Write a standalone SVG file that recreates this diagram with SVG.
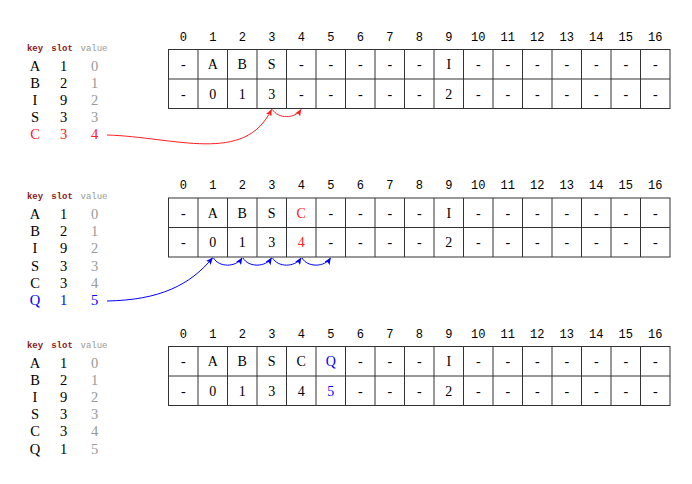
<svg xmlns="http://www.w3.org/2000/svg" xmlns:xlink="http://www.w3.org/1999/xlink" width="692" height="484" viewBox="0 0 692 484">
<style>
.idx{font-family:"Liberation Mono","DejaVu Sans Mono",monospace;font-size:12px;text-anchor:middle;fill:#000}
.cell{font-family:"Liberation Serif","DejaVu Serif",serif;font-size:14px;text-anchor:middle;fill:#000}
.hk{font-family:"Liberation Mono","DejaVu Sans Mono",monospace;font-size:9px;font-weight:bold;text-anchor:middle;fill:#8b1a1a}
.hv{font-family:"Liberation Mono","DejaVu Sans Mono",monospace;font-size:9px;text-anchor:middle;fill:#999}
.tk{font-family:"Liberation Serif","DejaVu Serif",serif;font-size:14.5px;text-anchor:middle;fill:#000}
.tv{font-family:"Liberation Serif","DejaVu Serif",serif;font-size:14.5px;text-anchor:middle;fill:#999}
.red{fill:#ff2020}
.blue{fill:#0000ff}
.grid{fill:#fff;stroke:#333;stroke-width:1}
.ar{fill:none;stroke:#ff2020;stroke-width:1}
.ab{fill:none;stroke:#0000ff;stroke-width:1}
</style>
<defs>
<marker id="mr" markerUnits="userSpaceOnUse" markerWidth="8" markerHeight="6" refX="6.5" refY="3" orient="auto">
<path d="M0,0 L7,3 L0,6 L1.5,3 z" fill="#ff2020"/>
</marker>
<marker id="mb" markerUnits="userSpaceOnUse" markerWidth="8" markerHeight="6" refX="6.5" refY="3" orient="auto">
<path d="M0,0 L7,3 L0,6 L1.5,3 z" fill="#0000ff"/>
</marker>
<g id="gridshape">
<rect class="grid" x="168.5" y="0" width="501.5" height="59"/>
<path stroke="#333" stroke-width="1" fill="none" d="M168.5,29.5 H670 M198,0 V59 M227.5,0 V59 M257,0 V59 M286.5,0 V59 M316,0 V59 M345.5,0 V59 M375,0 V59 M404.5,0 V59 M434,0 V59 M463.5,0 V59 M493,0 V59 M522.5,0 V59 M552,0 V59 M581.5,0 V59 M611,0 V59 M640.5,0 V59"/>
</g>
<g id="idxrow" class="idx">
<text x="183.25">0</text><text x="212.75">1</text><text x="242.25">2</text><text x="271.75">3</text><text x="301.25">4</text><text x="330.75">5</text><text x="360.25">6</text><text x="389.75">7</text><text x="419.25">8</text><text x="448.75">9</text><text x="478.25">10</text><text x="507.75">11</text><text x="537.25">12</text><text x="566.75">13</text><text x="596.25">14</text><text x="625.75">15</text><text x="655.25">16</text>
</g>
<g id="dashes" class="cell">
<text x="330.75">-</text><text x="360.25">-</text><text x="389.75">-</text><text x="419.25">-</text><text x="478.25">-</text><text x="507.75">-</text><text x="537.25">-</text><text x="566.75">-</text><text x="596.25">-</text><text x="625.75">-</text><text x="655.25">-</text>
</g>
</defs>

<!-- Table 1 -->
<g id="table1">
<text class="hk" x="35" y="50.5">key</text><text class="hk" x="62" y="50.5">slot</text><text class="hv" x="94" y="50.5">value</text>
<text class="tk" x="35" y="70.5">A</text><text class="tk" x="63.5" y="70.5">1</text><text class="tv" x="94.5" y="70.5">0</text>
<text class="tk" x="35" y="87.7">B</text><text class="tk" x="63.5" y="87.7">2</text><text class="tv" x="94.5" y="87.7">1</text>
<text class="tk" x="35" y="104.9">I</text><text class="tk" x="63.5" y="104.9">9</text><text class="tv" x="94.5" y="104.9">2</text>
<text class="tk" x="35" y="122.1">S</text><text class="tk" x="63.5" y="122.1">3</text><text class="tv" x="94.5" y="122.1">3</text>
<text class="tk red" x="35" y="139.3">C</text><text class="tk red" x="63.5" y="139.3">3</text><text class="tv red" x="94.5" y="139.3">4</text>
</g>

<!-- Array 1 -->
<g id="array1">
<use xlink:href="#idxrow" x="0" y="40.5"/>
<use xlink:href="#gridshape" x="0" y="49.5"/>
<g class="cell">
<text x="183.25" y="69">-</text><text x="212.75" y="69">A</text><text x="242.25" y="69">B</text><text x="271.75" y="69">S</text><text x="301.25" y="69">-</text><text x="448.75" y="69">I</text>
<text x="183.25" y="98.5">-</text><text x="212.75" y="98.5">0</text><text x="242.25" y="98.5">1</text><text x="271.75" y="98.5">3</text><text x="301.25" y="98.5">-</text><text x="448.75" y="98.5">2</text>
</g>
<use xlink:href="#dashes" x="0" y="69"/>
<use xlink:href="#dashes" x="0" y="98.5"/>
</g>

<!-- Table 2 -->
<g id="table2">
<text class="hk" x="35" y="199">key</text><text class="hk" x="62" y="199">slot</text><text class="hv" x="94" y="199">value</text>
<text class="tk" x="35" y="219">A</text><text class="tk" x="63.5" y="219">1</text><text class="tv" x="94.5" y="219">0</text>
<text class="tk" x="35" y="236.2">B</text><text class="tk" x="63.5" y="236.2">2</text><text class="tv" x="94.5" y="236.2">1</text>
<text class="tk" x="35" y="253.4">I</text><text class="tk" x="63.5" y="253.4">9</text><text class="tv" x="94.5" y="253.4">2</text>
<text class="tk" x="35" y="270.6">S</text><text class="tk" x="63.5" y="270.6">3</text><text class="tv" x="94.5" y="270.6">3</text>
<text class="tk" x="35" y="287.8">C</text><text class="tk" x="63.5" y="287.8">3</text><text class="tv" x="94.5" y="287.8">4</text>
<text class="tk blue" x="35" y="305">Q</text><text class="tk blue" x="63.5" y="305">1</text><text class="tv blue" x="94.5" y="305">5</text>
</g>

<!-- Array 2 -->
<g id="array2">
<use xlink:href="#idxrow" x="0" y="189"/>
<use xlink:href="#gridshape" x="0" y="198"/>
<g class="cell">
<text x="183.25" y="217.5">-</text><text x="212.75" y="217.5">A</text><text x="242.25" y="217.5">B</text><text x="271.75" y="217.5">S</text><text class="red" x="301.25" y="217.5">C</text><text x="448.75" y="217.5">I</text>
<text x="183.25" y="247">-</text><text x="212.75" y="247">0</text><text x="242.25" y="247">1</text><text x="271.75" y="247">3</text><text class="red" x="301.25" y="247">4</text><text x="448.75" y="247">2</text>
</g>
<use xlink:href="#dashes" x="0" y="217.5"/>
<use xlink:href="#dashes" x="0" y="247"/>
</g>

<!-- Table 3 -->
<g id="table3">
<text class="hk" x="35" y="347.5">key</text><text class="hk" x="62" y="347.5">slot</text><text class="hv" x="94" y="347.5">value</text>
<text class="tk" x="35" y="367.5">A</text><text class="tk" x="63.5" y="367.5">1</text><text class="tv" x="94.5" y="367.5">0</text>
<text class="tk" x="35" y="384.7">B</text><text class="tk" x="63.5" y="384.7">2</text><text class="tv" x="94.5" y="384.7">1</text>
<text class="tk" x="35" y="401.9">I</text><text class="tk" x="63.5" y="401.9">9</text><text class="tv" x="94.5" y="401.9">2</text>
<text class="tk" x="35" y="419.1">S</text><text class="tk" x="63.5" y="419.1">3</text><text class="tv" x="94.5" y="419.1">3</text>
<text class="tk" x="35" y="436.3">C</text><text class="tk" x="63.5" y="436.3">3</text><text class="tv" x="94.5" y="436.3">4</text>
<text class="tk" x="35" y="453.5">Q</text><text class="tk" x="63.5" y="453.5">1</text><text class="tv" x="94.5" y="453.5">5</text>
</g>

<!-- Array 3 -->
<g id="array3">
<use xlink:href="#idxrow" x="0" y="337.5"/>
<use xlink:href="#gridshape" x="0" y="346.5"/>
<g class="cell">
<text x="183.25" y="366">-</text><text x="212.75" y="366">A</text><text x="242.25" y="366">B</text><text x="271.75" y="366">S</text><text x="301.25" y="366">C</text><text x="448.75" y="366">I</text>
<text x="183.25" y="395.5">-</text><text x="212.75" y="395.5">0</text><text x="242.25" y="395.5">1</text><text x="271.75" y="395.5">3</text><text x="301.25" y="395.5">4</text><text x="448.75" y="395.5">2</text>
</g>
<g class="cell blue"><text x="330.75" y="366">Q</text><text x="330.75" y="395.5">5</text></g>
<g class="cell">
<text x="360.25" y="366">-</text><text x="389.75" y="366">-</text><text x="419.25" y="366">-</text><text x="478.25" y="366">-</text><text x="507.75" y="366">-</text><text x="537.25" y="366">-</text><text x="566.75" y="366">-</text><text x="596.25" y="366">-</text><text x="625.75" y="366">-</text><text x="655.25" y="366">-</text>
<text x="360.25" y="395.5">-</text><text x="389.75" y="395.5">-</text><text x="419.25" y="395.5">-</text><text x="478.25" y="395.5">-</text><text x="507.75" y="395.5">-</text><text x="537.25" y="395.5">-</text><text x="566.75" y="395.5">-</text><text x="596.25" y="395.5">-</text><text x="625.75" y="395.5">-</text><text x="655.25" y="395.5">-</text>
</g>
</g>

<!-- Connectors -->
<g id="connectors">
<path class="ar" marker-end="url(#mr)" d="M107,135 C175,137 245,165 271.5,109.5"/>
<path class="ar" marker-end="url(#mr)" d="M272.5,109.5 C278,119 295,119 301,109.5"/>
<path class="ab" marker-end="url(#mb)" d="M107,301 C160,300 190,285 212.5,258"/>
<path class="ab" marker-end="url(#mb)" d="M213.5,258 C219,267.5 236,267.5 242,258"/>
<path class="ab" marker-end="url(#mb)" d="M243,258 C248.5,267.5 265.5,267.5 271.5,258"/>
<path class="ab" marker-end="url(#mb)" d="M272.5,258 C278,267.5 295,267.5 301,258"/>
<path class="ab" marker-end="url(#mb)" d="M302,258 C307.5,267.5 324.5,267.5 330.5,258"/>
</g>
</svg>
